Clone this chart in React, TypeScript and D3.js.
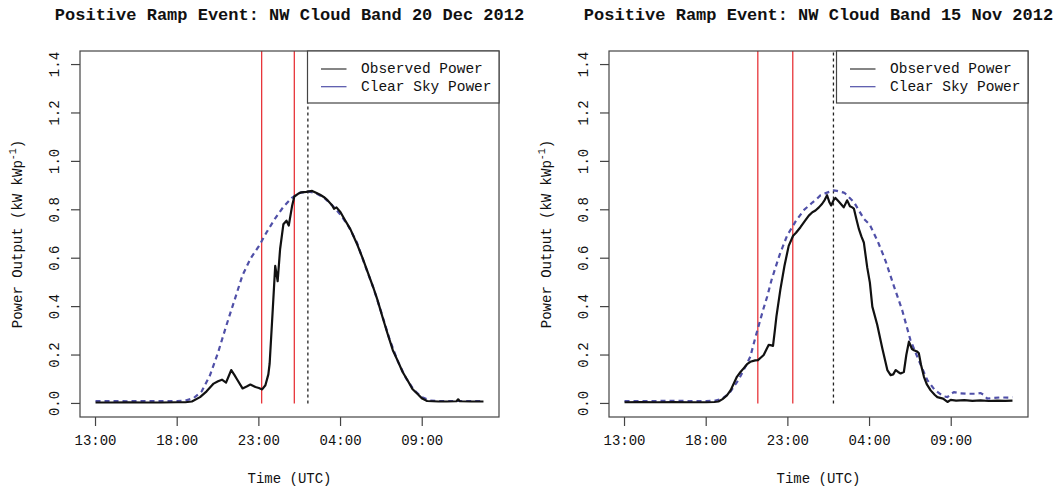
import React from "react";
import * as d3 from "d3";

// ---------- DATA (time = hours after 13:00 UTC) ----------
const titles = [
  "Positive Ramp Event: NW Cloud Band 20 Dec 2012",
  "Positive Ramp Event: NW Cloud Band 15 Nov 2012",
];
const xTickHours = [0, 5, 10, 15, 20];
const xTickLabels = ["13:00", "18:00", "23:00", "04:00", "09:00"];
const yTicks = [0, 0.2, 0.4, 0.6, 0.8, 1.0, 1.2, 1.4];
const legendLabels = ["Observed Power", "Clear Sky Power"];

// Panel 1: 20 Dec 2012
const obsTime1 = [0, 1, 2, 3, 4, 5, 5.5, 5.9, 6.4, 6.8, 7.23, 7.5, 7.74, 7.99, 8.31, 8.5, 8.66, 9.0, 9.25, 9.48, 9.79, 10.0, 10.2, 10.4, 10.58, 10.66, 10.85, 11.0, 11.15, 11.3, 11.5, 11.69, 11.83, 12.04, 12.17, 12.4, 12.6, 12.9, 13.26, 13.5, 13.75, 13.97, 14.2, 14.49, 14.6, 14.75, 15.0, 15.25, 15.6, 16.0, 16.35, 16.6, 17.0, 17.25, 17.6, 17.87, 18.2, 18.48, 18.8, 19.1, 19.4, 19.7, 20.0, 20.3, 21.0, 21.5, 22.1, 22.2, 22.3, 23.0, 23.75];
const obsPower1 = [0.004, 0.004, 0.005, 0.004, 0.004, 0.005, 0.005, 0.008, 0.026, 0.05, 0.082, 0.092, 0.098, 0.086, 0.138, 0.118, 0.1, 0.062, 0.07, 0.078, 0.068, 0.064, 0.058, 0.075, 0.12, 0.165, 0.388, 0.568, 0.505, 0.638, 0.74, 0.755, 0.735, 0.818, 0.855, 0.866, 0.872, 0.874, 0.878, 0.87, 0.862, 0.853, 0.84, 0.818, 0.804, 0.81, 0.79, 0.76, 0.72, 0.66, 0.6, 0.554, 0.48, 0.43, 0.35, 0.29, 0.22, 0.179, 0.13, 0.096, 0.06, 0.04, 0.02, 0.01, 0.008, 0.008, 0.009, 0.017, 0.009, 0.008, 0.008];
const clearTime1 = [0, 1, 2, 3, 4, 5, 5.5, 6, 6.5, 7, 7.5, 8, 8.5, 9, 9.5, 10, 10.5, 11, 11.5, 12, 12.5, 13, 13.5, 14, 14.5, 15, 15.5, 16, 16.5, 17, 17.5, 18, 18.5, 19, 19.5, 20, 20.5, 21, 22, 23, 23.75];
const clearPower1 = [0.01, 0.01, 0.009, 0.01, 0.01, 0.01, 0.012, 0.022, 0.05, 0.115, 0.21, 0.32, 0.425, 0.53, 0.6, 0.65, 0.71, 0.765, 0.812, 0.848, 0.87, 0.876, 0.868, 0.85, 0.818, 0.78, 0.73, 0.665, 0.57, 0.48, 0.375, 0.265, 0.175, 0.105, 0.055, 0.025, 0.012, 0.01, 0.01, 0.01, 0.01];
const rampLines1 = [10.17, 12.17]; // 23:10, 01:10
const noonLine1 = 13.0; // 02:00

// Panel 2: 15 Nov 2012
const obsTime2 = [0, 1, 2, 3, 4, 5, 5.5, 5.75, 6.0, 6.27, 6.5, 6.88, 7.1, 7.29, 7.5, 7.7, 8.0, 8.17, 8.35, 8.52, 8.7, 8.83, 9.0, 9.09, 9.2, 9.3, 9.54, 9.79, 10.05, 10.32, 10.5, 10.77, 11.0, 11.28, 11.5, 11.69, 11.9, 12.1, 12.25, 12.4, 12.55, 12.65, 12.8, 12.91, 13.1, 13.3, 13.42, 13.63, 13.8, 13.94, 14.04, 14.2, 14.35, 14.5, 14.65, 14.86, 15.02, 15.17, 15.47, 15.78, 16.09, 16.29, 16.45, 16.6, 16.75, 16.9, 17.1, 17.25, 17.41, 17.6, 17.72, 17.9, 18.02, 18.15, 18.33, 18.5, 18.74, 19.0, 19.15, 19.5, 19.77, 19.97, 20.3, 20.8, 21.3, 21.8, 22.3, 22.8, 23.3, 23.75];
const obsPower2 = [0.005, 0.006, 0.005, 0.006, 0.005, 0.005, 0.006, 0.008, 0.018, 0.033, 0.055, 0.11, 0.13, 0.145, 0.162, 0.172, 0.178, 0.179, 0.19, 0.2, 0.225, 0.242, 0.24, 0.238, 0.3, 0.36, 0.47, 0.568, 0.651, 0.693, 0.705, 0.728, 0.75, 0.776, 0.79, 0.797, 0.81, 0.825, 0.84, 0.86, 0.83, 0.818, 0.84, 0.849, 0.835, 0.82, 0.81, 0.839, 0.815, 0.81, 0.805, 0.76, 0.72, 0.69, 0.665, 0.561, 0.499, 0.4, 0.325, 0.228, 0.138, 0.117, 0.12, 0.138, 0.13, 0.124, 0.13, 0.2, 0.255, 0.225, 0.22, 0.215, 0.207, 0.16, 0.11, 0.08, 0.054, 0.035, 0.026, 0.02, 0.006, 0.015, 0.012, 0.014, 0.011, 0.013, 0.01, 0.012, 0.011, 0.012];
const clearTime2 = [0, 1, 2, 3, 4, 5, 5.5, 6.0, 6.27, 6.5, 7.0, 7.5, 7.7, 8.0, 8.17, 8.5, 8.74, 9.0, 9.34, 9.5, 9.95, 10.5, 11.0, 11.5, 11.79, 12.0, 12.4, 12.81, 13.0, 13.42, 13.5, 14.04, 14.5, 14.65, 15.0, 15.5, 15.86, 16.0, 16.49, 17.0, 17.5, 18.0, 18.54, 19.0, 19.5, 19.77, 20.0, 20.17, 20.5, 21.0, 21.5, 21.8, 22.0, 22.2, 22.5, 23.0, 23.5, 23.75];
const clearPower2 = [0.01, 0.01, 0.01, 0.011, 0.01, 0.01, 0.011, 0.02, 0.035, 0.05, 0.1, 0.165, 0.193, 0.27, 0.311, 0.39, 0.443, 0.51, 0.582, 0.615, 0.693, 0.755, 0.8, 0.83, 0.846, 0.86, 0.871, 0.88, 0.878, 0.871, 0.868, 0.832, 0.78, 0.7625, 0.74, 0.67, 0.61, 0.585, 0.485, 0.385, 0.2625, 0.18, 0.096, 0.055, 0.03, 0.026, 0.04, 0.047, 0.042, 0.04, 0.04, 0.043, 0.035, 0.02, 0.022, 0.025, 0.024, 0.026];
const rampLines2 = [8.16, 10.3]; // 21:10, 23:18
const noonLine2 = 12.79; // 01:47

// ---------- LAYOUT ----------
const W = 1056;
const H = 489;
const boxTop = 51;
const boxBottom = 417;
const boxWidth = 419;
const panelLefts = [80, 609];
const tMax = 23.75;
const font = "'Liberation Mono', 'Courier New', Courier, monospace";
const blue = "#5050a8";

const panels = [
  { title: titles[0], obsT: obsTime1, obsV: obsPower1, clrT: clearTime1, clrV: clearPower1, ramp: rampLines1, noon: noonLine1 },
  { title: titles[1], obsT: obsTime2, obsV: obsPower2, clrT: clearTime2, clrV: clearPower2, ramp: rampLines2, noon: noonLine2 },
];

function Panel({ p, left }: { p: any; left: number }) {
  const right = left + boxWidth;
  const x = d3.scaleLinear().domain([-0.04 * tMax, tMax * 1.04]).range([left, right]);
  const y = d3.scaleLinear().domain([-0.056, 1.456]).range([boxBottom, boxTop]);
  const line = d3
    .line<[number, number]>()
    .x((d) => x(d[0]))
    .y((d) => y(d[1]));
  const obs = line(p.obsT.map((t: number, i: number) => [t, p.obsV[i]]));
  const clr = line(p.clrT.map((t: number, i: number) => [t, p.clrV[i]]));
  const cx = (left + right) / 2;
  const legW = 191.5;
  const legH = 52;
  const legL = right - legW;
  const tick = 9;
  return (
    <g>
      <text x={cx} y={20} textAnchor="middle" fontFamily={font} fontWeight="bold" fontSize={17} fill="#111">
        {p.title}
      </text>
      {/* vertical event lines */}
      {p.ramp.map((t: number, i: number) => (
        <line key={"r" + i} x1={x(t)} x2={x(t)} y1={y(0)} y2={boxTop} stroke="#e8353a" strokeWidth={1.3} />
      ))}
      <line x1={x(p.noon)} x2={x(p.noon)} y1={y(0)} y2={boxTop} stroke="#222" strokeWidth={1.3} strokeDasharray="3,3" />
      {/* series */}
      <path d={clr || ""} fill="none" stroke={blue} strokeWidth={2.2} strokeDasharray="5,4" />
      <path d={obs || ""} fill="none" stroke="#111" strokeWidth={2.2} strokeLinejoin="round" />
      {/* box */}
      <rect x={left} y={boxTop} width={boxWidth} height={boxBottom - boxTop} fill="none" stroke="#444" strokeWidth={1.2} />
      {/* x axis */}
      {xTickHours.map((t, i) => (
        <g key={"x" + i}>
          <line x1={x(t)} x2={x(t)} y1={boxBottom} y2={boxBottom + tick} stroke="#444" strokeWidth={1.2} />
          <text x={x(t)} y={441} textAnchor="middle" dominantBaseline="central" fontFamily={font} fontSize={14} fill="#111">
            {xTickLabels[i]}
          </text>
        </g>
      ))}
      <text x={cx} y={479} textAnchor="middle" dominantBaseline="central" fontFamily={font} fontSize={14} fill="#111">
        Time (UTC)
      </text>
      {/* y axis */}
      {yTicks.map((v, i) => (
        <g key={"y" + i}>
          <line x1={left} x2={left - tick} y1={y(v)} y2={y(v)} stroke="#444" strokeWidth={1.2} />
          <text
            transform={`translate(${left - 25},${y(v)}) rotate(-90)`}
            textAnchor="middle"
            dominantBaseline="central"
            fontFamily={font}
            fontSize={14}
            fill="#111"
          >
            {d3.format(".1f")(v)}
          </text>
        </g>
      ))}
      <text
        transform={`translate(${left - 62},${(boxTop + boxBottom) / 2}) rotate(-90)`}
        textAnchor="middle"
        dominantBaseline="central"
        fontFamily={font}
        fontSize={14}
        fill="#111"
      >
        Power Output (kW kWp
        <tspan fontSize={10} dy={-5}>-1</tspan>
        <tspan dy={5}>)</tspan>
      </text>
      {/* legend */}
      <rect x={legL} y={boxTop} width={legW} height={legH} fill="#fff" stroke="#444" strokeWidth={1.2} />
      {legendLabels.map((lab, i) => {
        const ly = boxTop + 18 + i * 17.7;
        return (
          <g key={"l" + i}>
            <line x1={legL + 13.5} x2={legL + 39} y1={ly} y2={ly} stroke={i === 0 ? "#333" : blue} strokeWidth={1.2} />
            <text x={legL + 53.5} y={ly} dominantBaseline="central" fontFamily={font} fontSize={14.5} fill="#111">
              {lab}
            </text>
          </g>
        );
      })}
    </g>
  );
}

export default function App() {
  return (
    <svg width={W} height={H} style={{ position: "absolute", left: 0, top: 0, background: "#fff" }}>
      <rect width={W} height={H} fill="#fff" />
      {panels.map((p, i) => (
        <Panel key={i} p={p} left={panelLefts[i]} />
      ))}
    </svg>
  );
}
